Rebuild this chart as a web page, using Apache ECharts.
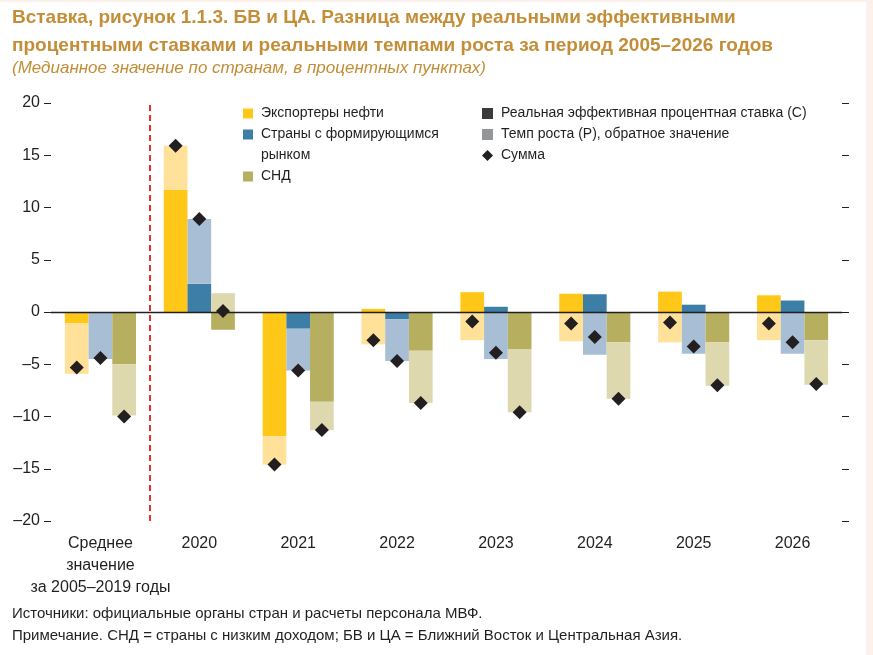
<!DOCTYPE html>
<html>
<head>
<meta charset="utf-8" />
<script src="https://cdn.jsdelivr.net/npm/echarts@6/dist/echarts.min.js"></script>
<style>
  body { margin: 0; background: #fcf1ea; }
  #main { position: absolute; left: 0; top: 2px; width: 866px; height: 653px; background: #fff; }
</style>
</head>
<body>
<div id="main"></div>
<script type="text/javascript">
var FONT = "'Liberation Sans Narrow', 'Arial Narrow', 'Liberation Sans', sans-serif";

var categories = ['Среднее\nзначение\nза 2005–2019 годы', '2020', '2021', '2022', '2023', '2024', '2025', '2026'];
var yTicks = [-20, -15, -10, -5, 0, 5, 10, 15, 20];

// экспортеры нефти
var oilRate   = [-1.1, 11.7, -11.9, 0.3, 1.9, 1.75, 1.95, 1.6];
var oilGrowth = [-4.8, 4.2, -2.7, -3.1, -2.7, -2.8, -2.9, -2.7];
var oilSum    = [-5.3, 15.9, -14.6, -2.7, -0.9, -1.1, -1.0, -1.1];
// страны с формирующимся рынком
var emRate    = [0, 2.7, -1.6, -0.7, 0.5, 1.7, 0.7, 1.1];
var emGrowth  = [-4.5, 6.2, -4.0, -4.0, -4.5, -4.1, -4.0, -4.0];
var emSum     = [-4.4, 8.9, -5.6, -4.7, -3.9, -2.4, -3.3, -2.9];
// СНД
var licRate   = [-5.0, -1.7, -8.6, -3.7, -3.6, -2.9, -2.9, -2.7];
var licGrowth = [-4.9, 1.8, -2.7, -5.0, -6.0, -5.4, -4.15, -4.25];
var licSum    = [-10.0, 0.1, -11.3, -8.7, -9.6, -8.3, -7.0, -6.9];

var dividerAt = 1; // граница между средним значением и 2020

var BW = 23.7;
function fmt(v) { return v < 0 ? '–' + Math.abs(v) : String(v); }

var myChart = echarts.init(document.getElementById('main'));

function bar(name, stack, data, color) {
    return { name: name, type: 'bar', stack: stack, data: data, barWidth: BW, barGap: '0%',
             itemStyle: { color: color }, xAxisIndex: 0 };
}
function dot(data, off) {
    return { name: 'Сумма', type: 'scatter', data: data, symbol: 'diamond', symbolSize: 14,
             symbolOffset: [off, 0], itemStyle: { color: '#231f20', opacity: 1 }, z: 5 };
}
function dummy(name, color) {
    return { name: name, type: 'scatter', xAxisIndex: 1, data: [], itemStyle: { color: color, opacity: 1 } };
}

var legendText = { fontFamily: FONT, fontSize: 14, color: '#231f20', lineHeight: 21, padding: [0, 0, 0, 3] };

var option = {
    animation: false,
    textStyle: { fontFamily: FONT },
    title: [{
        text: 'Вставка, рисунок 1.1.3. БВ и ЦА. Разница между реальными эффективными\nпроцентными ставками и реальными темпами роста за период 2005–2026 годов',
        left: 12, top: 2, padding: 0,
        textStyle: { fontFamily: FONT, fontSize: 19, fontWeight: 'bold', color: '#c38e37', lineHeight: 28 }
    }, {
        text: '(Медианное значение по странам, в процентных пунктах)',
        left: 12, top: 58, padding: 0,
        textStyle: { fontFamily: FONT, fontSize: 17, fontStyle: 'italic', fontWeight: 'normal', color: '#c38e37' }
    }, {
        text: 'Источники: официальные органы стран и расчеты персонала МВФ.\nПримечание. СНД = страны с низким доходом; БВ и ЦА = Ближний Восток и Центральная Азия.',
        left: 12, top: 601, padding: 0,
        textStyle: { fontFamily: FONT, fontSize: 15, fontWeight: 'normal', color: '#231f20', lineHeight: 22 }
    }],
    legend: [{
        left: 243, top: 101, orient: 'vertical', padding: 0, itemGap: 0,
        itemWidth: 10, itemHeight: 10, selectedMode: false,
        textStyle: legendText,
        data: [
            { name: 'Экспортеры нефти', icon: 'rect' },
            { name: 'Страны с формирующимся', icon: 'rect' },
            { name: 'рынком', icon: 'rect', itemStyle: { opacity: 0 } },
            { name: 'СНД', icon: 'rect' }
        ]
    }, {
        left: 482, top: 101, orient: 'vertical', padding: 0, itemGap: 0,
        itemWidth: 11, itemHeight: 11, selectedMode: false,
        textStyle: legendText,
        data: [
            { name: 'Реальная эффективная процентная ставка (С)', icon: 'rect' },
            { name: 'Темп роста (Р), обратное значение', icon: 'rect' },
            { name: 'Сумма', icon: 'diamond' }
        ]
    }],
    grid: { left: 51, right: 24, top: 101, bottom: 134 },
    xAxis: [{
        type: 'category', data: categories, position: 'bottom',
        axisLine: { lineStyle: { color: '#6d6e71', width: 1.2 } },
        axisTick: { inside: true, length: 5, interval: 0, lineStyle: { color: '#6d6e71' } },
        axisLabel: { interval: 0, margin: 12, fontFamily: FONT, fontSize: 16, color: '#231f20', lineHeight: 22 }
    }, {
        type: 'value', min: 0, max: categories.length, show: false
    }],
    yAxis: [{
        type: 'value', min: yTicks[0], max: yTicks[yTicks.length - 1], interval: 5,
        axisLine: { show: false }, splitLine: { show: false },
        axisTick: { show: true, length: 7, lineStyle: { color: '#231f20' } },
        axisLabel: { margin: 11, formatter: fmt, fontFamily: FONT, fontSize: 16, color: '#231f20' }
    }, {
        type: 'value', position: 'right', min: yTicks[0], max: yTicks[yTicks.length - 1], interval: 5,
        axisLine: { show: false }, splitLine: { show: false },
        axisTick: { show: true, length: 7, lineStyle: { color: '#231f20' } },
        axisLabel: { show: false }
    }],
    series: [
        Object.assign(bar('oilRate', 'oil', oilRate, '#ffc718'), {
            markLine: { silent: true, symbol: 'none', label: { show: false },
                        lineStyle: { color: '#231f20', width: 1.3, type: 'solid' }, data: [{ yAxis: 0 }] }
        }),
        bar('oilGrowth', 'oil', oilGrowth, '#ffe199'),
        bar('emRate', 'em', emRate, '#3d7ea6'),
        bar('emGrowth', 'em', emGrowth, '#a7bed4'),
        bar('licRate', 'lic', licRate, '#b6af5f'),
        bar('licGrowth', 'lic', licGrowth, '#ded8af'),
        dot(oilSum, -BW),
        dot(emSum, 0),
        dot(licSum, BW),
        {
            name: 'divider', type: 'line', xAxisIndex: 1, data: [],
            markLine: { silent: true, symbol: 'none', label: { show: false },
                        lineStyle: { color: '#e8312f', width: 2, type: [6, 4] }, data: [{ xAxis: dividerAt }] }
        },
        dummy('Экспортеры нефти', '#ffc718'),
        dummy('Страны с формирующимся', '#3d7ea6'),
        dummy('рынком', '#ffffff'),
        dummy('СНД', '#b6af5f'),
        dummy('Реальная эффективная процентная ставка (С)', '#3a3a3c'),
        dummy('Темп роста (Р), обратное значение', '#939598')
    ]
};
myChart.setOption(option);
</script>
</body>
</html>
